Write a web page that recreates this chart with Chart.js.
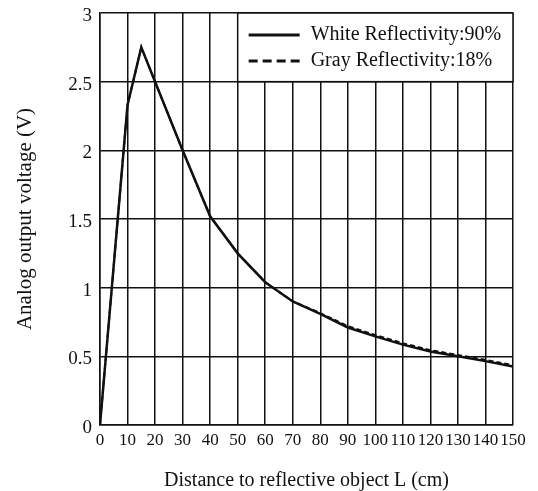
<!DOCTYPE html>
<html>
<head>
<meta charset="utf-8">
<script src="https://cdn.jsdelivr.net/npm/chart.js@4"></script>
<style>
  html, body { margin: 0; padding: 0; background: #fff; }
  #wrap { width: 538px; height: 491px; }
</style>
</head>
<body>
<div id="wrap"><canvas id="grafico"></canvas></div>
<script>
// distancia em cm e tensao em V
const distancia = [0, 10, 15, 20, 30, 40, 50, 60, 70, 80, 90, 100, 110, 120, 130, 140, 150];
const branco90 = [0, 2.33, 2.75, 2.5, 2.0, 1.52, 1.25, 1.04, 0.9, 0.81, 0.71, 0.645, 0.585, 0.535, 0.5, 0.465, 0.425];
const cinza18 = [0, 2.33, 2.75, 2.5, 2.0, 1.52, 1.25, 1.04, 0.9, 0.815, 0.72, 0.655, 0.595, 0.545, 0.51, 0.475, 0.435];

const legendaX = [50, 150];
const legendaY = [2.5, 3];

const fonte = 'Liberation Serif, Times New Roman, serif';
const preto = '#111';

function pontos(valores) {
  return distancia.map((d, i) => ({ x: d, y: valores[i] }));
}

// desenha a caixa da legenda dentro da area do grafico
const legendaInterna = {
  id: 'legendaInterna',
  beforeDatasetsDraw(chart) {
    const { ctx, scales } = chart;
    const x0 = scales.x.getPixelForValue(legendaX[0]);
    const x1 = scales.x.getPixelForValue(legendaX[1]);
    const y0 = scales.y.getPixelForValue(legendaY[1]);
    const y1 = scales.y.getPixelForValue(legendaY[0]);
    ctx.save();
    ctx.fillStyle = '#fff';
    ctx.fillRect(x0, y0, x1 - x0, y1 - y0);
    ctx.strokeStyle = preto;
    ctx.lineWidth = 1.5;
    ctx.strokeRect(x0, y0, x1 - x0, y1 - y0);
    const linhas = [y0 + 22, y0 + 48];
    chart.data.datasets.forEach((ds, i) => {
      ctx.beginPath();
      ctx.setLineDash(ds.borderDash ? [9, 5] : []);
      ctx.lineWidth = 3;
      ctx.moveTo(x0 + 11, linhas[i]);
      ctx.lineTo(x0 + 62, linhas[i]);
      ctx.stroke();
      ctx.setLineDash([]);
      ctx.fillStyle = preto;
      ctx.font = '20px ' + fonte;
      ctx.textBaseline = 'middle';
      ctx.fillText(ds.label, x0 + 73, linhas[i]);
    });
    ctx.restore();
  }
};

new Chart(document.getElementById('grafico'), {
  type: 'line',
  data: {
    datasets: [{
      label: 'White Reflectivity:90%',
      data: pontos(branco90),
      borderColor: preto,
      borderWidth: 2.5,
      pointRadius: 0,
      tension: 0
    }, {
      label: 'Gray Reflectivity:18%',
      data: pontos(cinza18),
      borderColor: preto,
      borderWidth: 2,
      borderDash: [5, 3],
      pointRadius: 0,
      tension: 0
    }]
  },
  options: {
    responsive: true,
    maintainAspectRatio: false,
    animation: false,
    layout: { padding: { top: 13, right: 25, left: 0, bottom: 0 } },
    plugins: { legend: { display: false }, tooltip: { enabled: false } },
    scales: {
      x: {
        type: 'linear',
        min: 0,
        max: 150,
        afterFit: (s) => { s.height = 66; s.paddingLeft = 0; s.paddingRight = 0; },
        ticks: { stepSize: 10, color: preto, padding: 5, maxRotation: 0, autoSkip: false,
                 font: { family: fonte, size: 17 } },
        grid: { color: preto, lineWidth: 1.5, drawTicks: false },
        border: { color: preto, width: 1.5 },
        title: { display: true, text: 'Distance to reflective object L (cm)', color: preto,
                 font: { family: fonte, size: 20, lineHeight: 1 }, padding: { top: 0, bottom: 0 } }
      },
      y: {
        min: 0,
        max: 3,
        afterFit: (s) => { s.width = 100; s.paddingTop = 0; s.paddingBottom = 0; },
        ticks: { stepSize: 0.5, color: preto, padding: 8, labelOffset: 3,
                 callback: (v) => String(Number(v)),
                 font: { family: fonte, size: 19 } },
        grid: { color: preto, lineWidth: 1.5, drawTicks: false },
        border: { color: preto, width: 1.5 },
        title: { display: true, text: 'Analog output voltage (V)', color: preto,
                 font: { family: fonte, size: 21, lineHeight: 1 }, padding: { top: 15, bottom: 0 } }
      }
    }
  },
  plugins: [legendaInterna]
});
</script>
</body>
</html>
